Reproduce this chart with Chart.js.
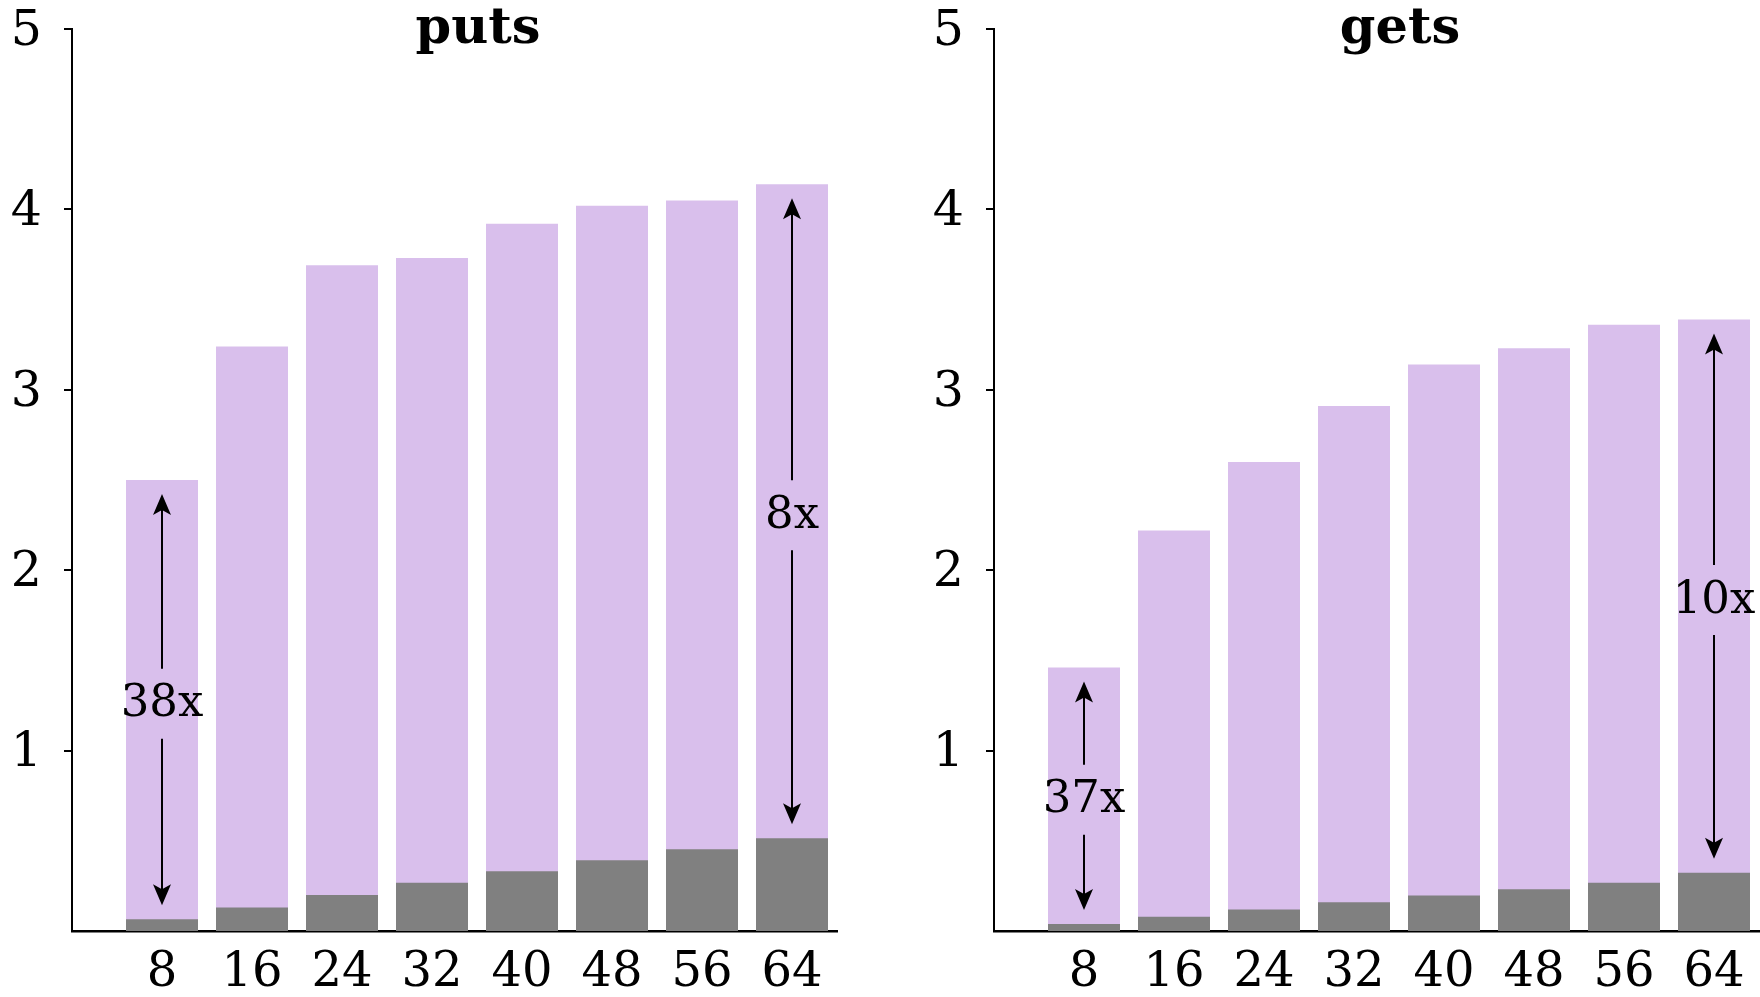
<!DOCTYPE html>
<html>
<head>
<meta charset="utf-8">
<script src="https://cdn.jsdelivr.net/npm/chart.js@4.4.1/dist/chart.umd.min.js"></script>
<style>
  html, body { margin: 0; padding: 0; background: #fff; overflow: hidden; }
  body { width: 1760px; height: 997px; position: relative; }
  .panel { position: absolute; top: 0; width: 840px; height: 997px; }
  #puts-panel { left: 0; }
  #gets-panel { left: 922px; }
</style>
</head>
<body>
<div class="panel" id="puts-panel"><canvas id="puts-chart" width="840" height="997"></canvas></div>
<div class="panel" id="gets-panel"><canvas id="gets-chart" width="840" height="997"></canvas></div>
<script>
  // Valeurs (axe y de 0 à 5)
  const sizes = [8, 16, 24, 32, 40, 48, 56, 64];
  const yTicks = [1, 2, 3, 4, 5];

  const putsTotal = [2.5, 3.24, 3.69, 3.73, 3.92, 4.02, 4.05, 4.14];
  const putsBase = [0.065, 0.13, 0.2, 0.267, 0.331, 0.392, 0.453, 0.514];
  const getsTotal = [1.46, 2.22, 2.6, 2.91, 3.14, 3.23, 3.36, 3.39];
  const getsBase = [0.039, 0.079, 0.119, 0.16, 0.197, 0.232, 0.267, 0.323];

  const putsNotes = [{ at: 8, label: "38x" }, { at: 64, label: "8x" }];
  const getsNotes = [{ at: 8, label: "37x" }, { at: 64, label: "10x" }];

  const PURPLE = "#d9bfec";
  const GRAY = "#808080";
  const SERIF = "'DejaVu Serif', serif";

  Chart.defaults.font.family = SERIF;
  Chart.defaults.color = "#000";

  function arrowHead(ctx, x, tipY, dir) {
    // dir = -1 : pointe vers le haut, 1 : vers le bas
    const len = 21, half = 9, notch = 5;
    ctx.beginPath();
    ctx.moveTo(x, tipY);
    ctx.lineTo(x - half, tipY - dir * len);
    ctx.lineTo(x, tipY - dir * (len - notch));
    ctx.lineTo(x + half, tipY - dir * len);
    ctx.closePath();
    ctx.fill();
  }

  const notesPlugin = {
    id: "notes",
    afterDatasetsDraw(chart, args, opts) {
      const { ctx, chartArea } = chart;
      const xs = chart.scales.x;
      const ys = chart.scales.y;
      ctx.save();
      ctx.fillStyle = "#000";
      ctx.strokeStyle = "#000";
      ctx.font = `bold 51px ${SERIF}`;
      ctx.textAlign = "center";
      ctx.textBaseline = "alphabetic";
      ctx.fillText(opts.title, chartArea.left + 406, 43);

      ctx.font = `45px ${SERIF}`;
      ctx.textBaseline = "middle";
      ctx.lineWidth = 2;
      opts.notes.forEach((note) => {
        const i = sizes.indexOf(note.at);
        const px = xs.getPixelForValue(note.at);
        const top = ys.getPixelForValue(opts.total[i]) + 14;
        const bottom = ys.getPixelForValue(opts.base[i]) - 14;
        const mid = (top + bottom) / 2 + 5;
        ctx.beginPath();
        ctx.moveTo(px, top + 15);
        ctx.lineTo(px, mid - 36);
        ctx.moveTo(px, mid + 34);
        ctx.lineTo(px, bottom - 15);
        ctx.stroke();
        arrowHead(ctx, px, top, -1);
        arrowHead(ctx, px, bottom, 1);
        ctx.fillText(note.label, px, mid);
      });
      ctx.restore();
    },
  };

  function makeChart(canvasId, title, total, base, notes) {
    const ctx = document.getElementById(canvasId).getContext("2d");
    return new Chart(ctx, {
      type: "bar",
      data: {
        datasets: [
          {
            label: "base",
            data: sizes.map((s, i) => ({ x: s, y: base[i] })),
            backgroundColor: GRAY,
            grouped: false,
            barPercentage: 0.8,
            categoryPercentage: 1,
          },
          {
            label: "total",
            data: sizes.map((s, i) => ({ x: s, y: total[i] })),
            backgroundColor: PURPLE,
            grouped: false,
            barPercentage: 0.8,
            categoryPercentage: 1,
          },
        ],
      },
      options: {
        responsive: false,
        animation: false,
        layout: { padding: { top: 29, right: 3, left: 0, bottom: 0 } },
        plugins: {
          legend: { display: false },
          tooltip: { enabled: false },
          notes: { title, total, base, notes },
        },
        scales: {
          x: {
            type: "linear",
            min: 0,
            max: 68,
            bounds: "data",
            offset: false,
            afterBuildTicks: (s) => {
              s.ticks = sizes.map((v) => ({ value: v }));
            },
            afterFit: (s) => {
              s.height = 66;
              s.paddingLeft = 0;
              s.paddingRight = 0;
            },
            ticks: {
              font: { size: 48 },
              color: "#000",
              padding: 14,
              autoSkip: false,
              maxRotation: 0,
            },
            grid: { display: true, drawOnChartArea: false, drawTicks: false },
            border: { color: "#000", width: 2.5 },
          },
          y: {
            min: 0,
            max: 5,
            afterBuildTicks: (s) => {
              s.ticks = yTicks.map((v) => ({ value: v }));
            },
            afterFit: (s) => {
              s.width = 72;
              s.paddingTop = 0;
              s.paddingBottom = 0;
            },
            ticks: {
              font: { size: 49 },
              color: "#000",
              padding: 22,
              labelOffset: 3,
            },
            grid: {
              drawOnChartArea: false,
              drawTicks: true,
              tickLength: 8,
              color: "#000",
              lineWidth: 2,
            },
            border: { color: "#000", width: 2 },
          },
        },
      },
      plugins: [notesPlugin],
    });
  }

  makeChart("puts-chart", "puts", putsTotal, putsBase, putsNotes);
  makeChart("gets-chart", "gets", getsTotal, getsBase, getsNotes);
</script>
</body>
</html>
